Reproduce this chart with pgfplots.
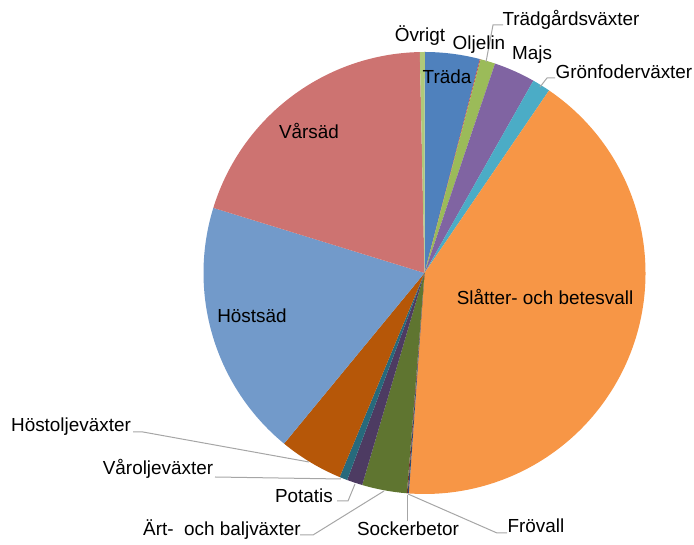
\documentclass[border=0pt]{standalone}
\usepackage{pgfplots}
\pgfplotsset{compat=1.18}
\usepackage{pgfplotstable}
\usepackage{fontspec}
\setmainfont{Liberation Sans}

\definecolor{c1}{HTML}{4F81BD}
\definecolor{c2}{HTML}{C0504D}
\definecolor{c3}{HTML}{9BBB59}
\definecolor{c4}{HTML}{8064A2}
\definecolor{c5}{HTML}{4BACC6}
\definecolor{c6}{HTML}{F79646}
\definecolor{c7}{HTML}{2C4D75}
\definecolor{c8}{HTML}{772C2A}
\definecolor{c9}{HTML}{5F7530}
\definecolor{c10}{HTML}{4D3B62}
\definecolor{c11}{HTML}{276A7C}
\definecolor{c12}{HTML}{B65708}
\definecolor{c13}{HTML}{729ACA}
\definecolor{c14}{HTML}{CD7371}
\definecolor{c15}{HTML}{AFC97A}
\definecolor{leader}{HTML}{A6A6A6}

% share of area, percent, in clockwise order from 12 o'clock
\pgfplotstableread[col sep=comma]{
crop,share
Träda,4.03
Trädgårdsväxter,0.06
Oljelin,1.08
Majs,3.03
Grönfoderväxter,1.33
Slåtter- och betesvall,41.60
Frövall,0.08
Sockerbetor,0.06
Ärt- och baljväxter,3.28
Potatis,1.14
Våroljeväxter,0.58
Höstoljeväxter,4.69
Höstsäd,18.80
Vårsäd,19.90
Övrigt,0.36
}\piedata

\begin{document}
\begin{tikzpicture}
\useasboundingbox (0,0) rectangle (694pt,545pt);
\begin{axis}[hide axis, x=221pt, y=221pt, xmin=-1, xmax=1, ymin=-1, ymax=1,
  anchor=origin, at={(424.5pt,272pt)}, clip=false]
\def\cum{0}
\pgfplotsforeachungrouped \i in {0,...,14}{%
  \pgfplotstablegetelem{\i}{share}\of\piedata
  \let\v=\pgfplotsretval
  \pgfmathsetmacro\a{\cum*3.6}
  \pgfmathsetmacro\cum{\cum+\v}
  \pgfmathsetmacro\b{\cum*3.6}
  \pgfmathsetmacro\sa{sin(\a)}
  \pgfmathsetmacro\ca{cos(\a)}
  \pgfmathsetmacro\st{90-\a}
  \pgfmathsetmacro\en{90-\b}
  \pgfmathtruncatemacro\k{\i+1}
  \edef\tmp{\noexpand\fill[c\k] (axis cs:0,0) -- (axis cs:\sa,\ca) arc[start angle=\st, end angle=\en, radius=221pt] -- cycle;}
  \tmp
}
\end{axis}

\begin{scope}[shift={(0,545pt)}, x=1pt, y=-1pt, every node/.style={font=\fontsize{18.9}{22}\selectfont, text=black, inner sep=0pt}]
  % leader lines
  \draw[leader, line width=1pt] (503,25) -- (493,25) -- (486,62);
  \draw[leader, line width=1pt] (555,78) -- (547,78) -- (540,87);
  \draw[leader, line width=1pt] (133,432) -- (143,432) -- (309,462);
  \draw[leader, line width=1pt] (215,477) -- (341,479);
  \draw[leader, line width=1pt] (337,501) -- (348,501) -- (355,484);
  \draw[leader, line width=1pt] (300,535) -- (313,535) -- (384,491);
  \draw[leader, line width=1pt] (407,495) -- (407,521);
  \draw[leader, line width=1pt] (408,494) -- (497,533) -- (507,533);
  % labels
  \node at (420,36) {Övrigt};
  \node at (479,45) {Oljelin};
  \node at (571,20) {Trädgårdsväxter};
  \node at (532,55) {Majs};
  \node at (624,72) {Grönfoderväxter};
  \node at (447,77) {Träda};
  \node at (309,131) {Vårsäd};
  \node at (252,316) {Höstsäd};
  \node at (545,297) {Slåtter- och betesvall};
  \node at (71,427) {Höstoljeväxter};
  \node at (158,469) {Våroljeväxter};
  \node at (304,496) {Potatis};
  \node at (222,530) {Ärt-\ \ och baljväxter};
  \node at (408,529) {Sockerbetor};
  \node at (536,526) {Frövall};
\end{scope}
\end{tikzpicture}
\end{document}
